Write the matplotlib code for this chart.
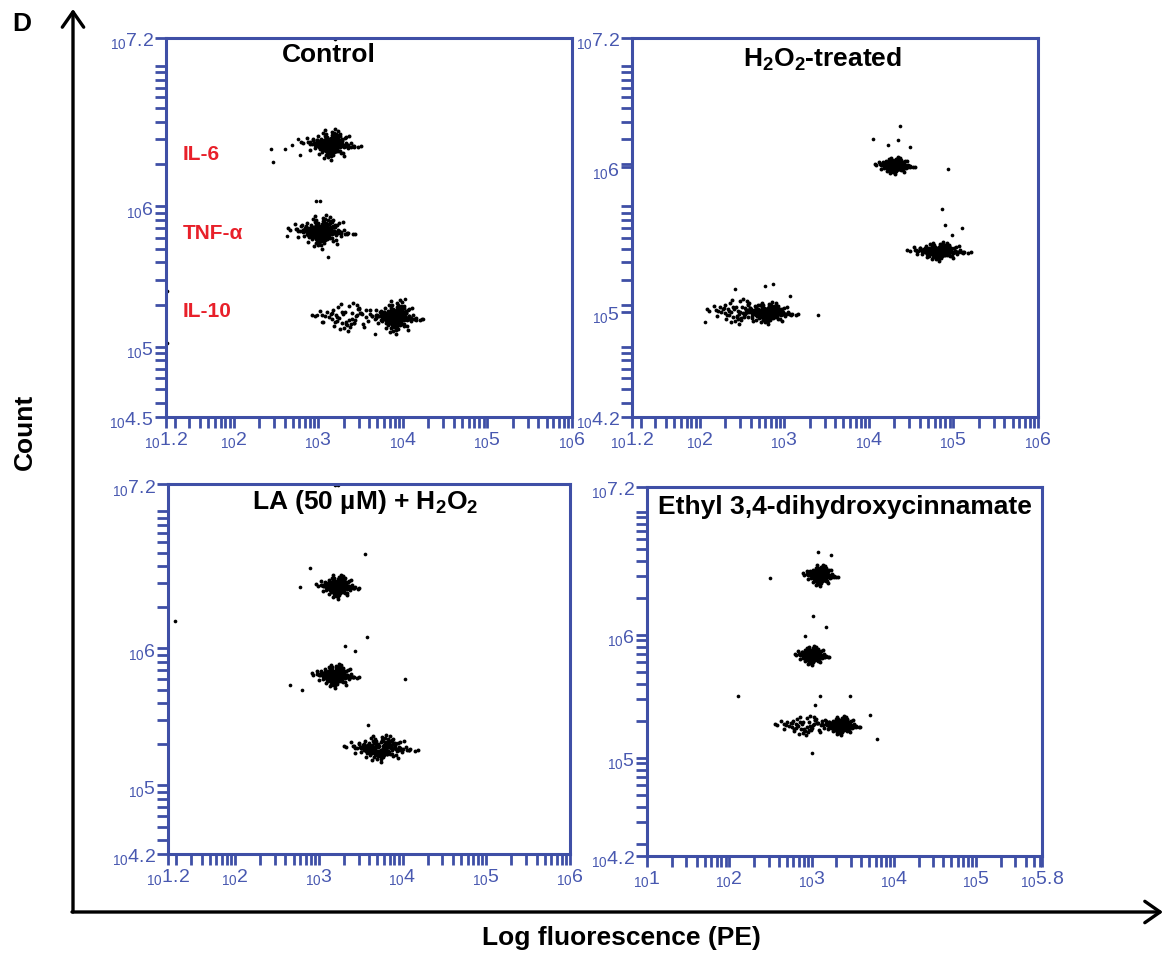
import numpy as np
import matplotlib.pyplot as plt
from matplotlib.patches import FancyArrowPatch

plt.rcParams['font.family'] = ['Liberation Sans', 'DejaVu Sans']
plt.rcParams['mathtext.fontset'] = 'custom'
plt.rcParams['mathtext.rm'] = 'Liberation Sans'
plt.rcParams['mathtext.bf'] = 'Liberation Sans:bold'

W, H = 1164, 954
BLUE = "#3f4fa6"
LBLUE = "#4858b0"
RED = "#e8202a"

# hand typed cloud offsets (in sigma units), reused for every population
TX = [0.12, -0.35, 0.58, -0.81, 1.24, -1.07, 0.02, 0.73, -0.52, 0.31,
      -1.62, 1.85, -0.18, 0.94, -0.93, 0.44, -0.63, 1.41, -1.33, 0.21,
      0.66, -0.09, -2.12, 2.23, 0.82, -0.71, 1.03, -0.41, 0.36, -1.01,
      0.06, 1.63, -1.79, 0.47, -0.26, 1.12, -1.46, 0.77, -0.66, 2.41,
      -0.14, 0.27, -0.57, 0.53, -1.21, 1.28, -0.33, 0.68, -0.86, 0.97,
      -2.28, 1.92, 0.16, -0.04, 0.88, -0.97, 1.52, -1.56, 0.39, -0.47]
TY = [-0.42, 0.91, 0.23, -0.67, 0.11, 0.54, -1.23, 1.38, -0.08, 0.76,
      0.33, -0.29, -1.71, 0.62, 1.17, -0.94, 0.05, -0.51, 0.88, -1.46,
      1.96, -0.73, 0.18, -0.36, 1.52, 0.41, -1.12, 2.07, -0.19, 0.69,
      -2.21, 0.27, 0.97, -0.83, 0.48, -1.58, 0.14, 1.27, -0.61, -0.24,
      0.79, -1.05, 1.63, -0.47, 0.02, 1.09, -0.88, 0.36, -1.34, 0.57,
      0.44, -0.13, 1.84, -0.99, 0.71, -0.25, 1.21, -0.71, 2.21, -1.87]
LAYER_SCALE = [1.0, 0.75, 0.55, 0.4, 0.25]

TITLES = ["Control", r"$\mathregular{H_2O_2}$-treated",
          r"LA (50 µM) + $\mathregular{H_2O_2}$", "Ethyl 3,4-dihydroxycinnamate"]

# log10 fluorescence / log10 count of each population
CTRL_CX = [3.14, 3.03, 3.91, 3.34]
CTRL_CY = [6.44, 5.82, 5.21, 5.21]
CTRL_SX = [0.15, 0.17, 0.13, 0.18]
CTRL_SY = [0.05, 0.055, 0.055, 0.045]
CTRL_N = [5, 5, 5, 1]
CTRL_STRAY_X = [1.21, 1.21, 3.2, 2.44, 2.46, 2.61, 2.69, 2.76, 2.78, 2.97, 3.02,
                2.63, 3.11, 2.99, 3.04, 4.03, 3.67, 4.24]
CTRL_STRAY_Y = [5.40, 5.03, 7.19, 6.41, 6.32, 6.41, 6.44, 6.48, 6.37, 6.04, 6.04,
                5.79, 5.64, 5.23, 5.18, 5.34, 5.09, 5.20]

H2O2_CX = [4.30, 4.82, 2.80, 2.45]
H2O2_CY = [6.29, 5.68, 5.24, 5.25]
H2O2_SX = [0.10, 0.16, 0.15, 0.16]
H2O2_SY = [0.028, 0.03, 0.035, 0.04]
H2O2_N = [5, 5, 5, 1]
H2O2_STRAY_X = [4.05, 4.37, 4.34, 4.49, 4.23, 4.94, 4.86, 4.90, 5.10, 4.98,
                2.42, 2.77, 2.87, 3.07, 3.40, 2.06]
H2O2_STRAY_Y = [6.48, 6.57, 6.47, 6.42, 6.44, 6.27, 5.98, 5.87, 5.85, 5.80,
                5.41, 5.43, 5.45, 5.36, 5.23, 5.18]

LA_CX = [3.22, 3.19, 3.73]
LA_CY = [6.45, 5.80, 5.27]
LA_SX = [0.11, 0.12, 0.19]
LA_SY = [0.04, 0.04, 0.045]
LA_N = [5, 5, 3]
LA_STRAY_X = [1.28, 3.55, 2.90, 2.78, 3.58, 3.31, 3.43, 2.66, 2.80, 4.03, 3.59, 3.19, 3.23]
LA_STRAY_Y = [6.20, 6.69, 6.59, 6.45, 6.08, 6.02, 5.98, 5.73, 5.70, 5.78, 5.44, 7.19, 7.19]

ETH_CX = [3.10, 3.00, 3.35, 2.92]
ETH_CY = [6.48, 5.83, 5.26, 5.26]
ETH_SX = [0.09, 0.09, 0.10, 0.16]
ETH_SY = [0.04, 0.035, 0.035, 0.035]
ETH_N = [5, 5, 5, 1]
ETH_STRAY_X = [2.49, 2.11, 3.00, 3.08, 3.24, 3.02, 3.17, 2.92, 3.47, 3.10, 3.04, 3.79, 3.71]
ETH_STRAY_Y = [6.46, 5.50, 5.04, 6.67, 6.65, 6.15, 6.06, 5.99, 5.50, 5.50, 5.43, 5.15, 5.35]

X_LIMS = [(1.2, 6), (1.2, 6), (1.2, 6), (1, 5.8)]
Y_LIMS = [(4.5, 7.2), (4.5, 7.2), (4.5, 7.2), (4.2, 7.2)]
X_TICKS = [[1.2, 2, 3, 4, 5, 6]] * 3 + [[1, 2, 3, 4, 5, 5.8]]
X_LABELS = [["1.2", "2", "3", "4", "5", "6"]] * 3 + [["1", "2", "3", "4", "5", "5.8"]]
Y_TICKS = [[4.5, 5, 6, 7.2], [4.5, 5.25, 6.28, 7.2], [4.5, 5, 6, 7.2], [4.2, 5, 6, 7.2]]
Y_LABELS = [["4.5", "5", "6", "7.2"], ["4.2", "5", "6", "7.2"],
            ["4.2", "5", "6", "7.2"], ["4.2", "5", "6", "7.2"]]

# panel boxes in pixels: left, right, top, bottom
BOXES = [(166, 572, 39, 418), (632, 1038, 39, 418), (168, 570, 485, 855), (647, 1042, 488, 857)]
TITLE_POS = [(0.40, 0.958), (0.47, 0.945), (0.49, 0.954), (0.50, 0.948)]

panels = [
    (CTRL_CX, CTRL_CY, CTRL_SX, CTRL_SY, CTRL_N, CTRL_STRAY_X, CTRL_STRAY_Y),
    (H2O2_CX, H2O2_CY, H2O2_SX, H2O2_SY, H2O2_N, H2O2_STRAY_X, H2O2_STRAY_Y),
    (LA_CX, LA_CY, LA_SX, LA_SY, LA_N, LA_STRAY_X, LA_STRAY_Y),
    (ETH_CX, ETH_CY, ETH_SX, ETH_SY, ETH_N, ETH_STRAY_X, ETH_STRAY_Y),
]


def minor_ticks(lo, hi):
    out = []
    for d in range(int(np.floor(lo)), int(np.ceil(hi)) + 1):
        for k in range(1, 10):
            p = d + np.log10(k)
            if lo < p < hi:
                out.append(p)
    return out


fig = plt.figure(figsize=(W / 100, H / 100), dpi=100)
tx = np.array(TX)
ty = np.array(TY)

for i, (cx, cy, sx, sy, nl, stx, sty) in enumerate(panels):
    l, r, t, b = BOXES[i]
    ax = fig.add_axes([l / W, 1 - b / H, (r - l) / W, (b - t) / H])
    for j in range(len(cx)):
        for s in LAYER_SCALE[:nl[j]]:
            ax.scatter(cx[j] + tx * sx[j] * s, cy[j] + ty * sy[j] * s,
                       s=8, c="black", linewidths=0, clip_on=False)
    ax.scatter(stx, sty, s=7, c="black", linewidths=0, clip_on=False)

    ax.set_xlim(*X_LIMS[i])
    ax.set_ylim(*Y_LIMS[i])
    ax.set_xticks(X_TICKS[i])
    ax.set_xticklabels([r"$\mathregular{{}_{10}%s}$" % s for s in X_LABELS[i]])
    ax.set_yticks(Y_TICKS[i])
    ax.set_yticklabels([r"$\mathregular{{}_{10}%s}$" % s for s in Y_LABELS[i]])
    ax.set_xticks(minor_ticks(*X_LIMS[i]), minor=True)
    ax.set_yticks(minor_ticks(*Y_LIMS[i]), minor=True)
    ax.tick_params(which="both", direction="out", length=8, width=2, color=BLUE,
                   labelcolor=LBLUE, labelsize=14, pad=1)
    for sp in ax.spines.values():
        sp.set_color(BLUE)
        sp.set_linewidth(2.2)
    ax.text(TITLE_POS[i][0], TITLE_POS[i][1], TITLES[i], transform=ax.transAxes,
            ha="center", va="center", fontsize=19, fontweight="bold")

    if i == 0:
        for lab, yy in zip(["IL-6", "TNF-α", "IL-10"], [0.694, 0.488, 0.28]):
            ax.text(0.042, yy, lab, transform=ax.transAxes, color=RED,
                    fontsize=15, fontweight="bold", va="center", ha="left")

# big outer axes arrows
for p0, p1 in [((73, 913), (73, 10)), ((72, 913), (1163, 913))]:
    arr = FancyArrowPatch((p0[0] / W, 1 - p0[1] / H), (p1[0] / W, 1 - p1[1] / H),
                          transform=fig.transFigure, arrowstyle="->,head_length=0.5,head_width=0.35",
                          mutation_scale=22, lw=2.4, color="black", shrinkA=0, shrinkB=0)
    fig.add_artist(arr)

fig.text(22 / W, 1 - 24 / H, "D", fontsize=19, fontweight="bold", ha="center", va="center")
fig.text(25 / W, 1 - 432 / H, "Count", fontsize=19, fontweight="bold", rotation=90,
         ha="center", va="center")
fig.text(621 / W, 1 - 938 / H, "Log fluorescence (PE)", fontsize=19, fontweight="bold",
         ha="center", va="center")

fig.savefig("out.png", dpi=100)
